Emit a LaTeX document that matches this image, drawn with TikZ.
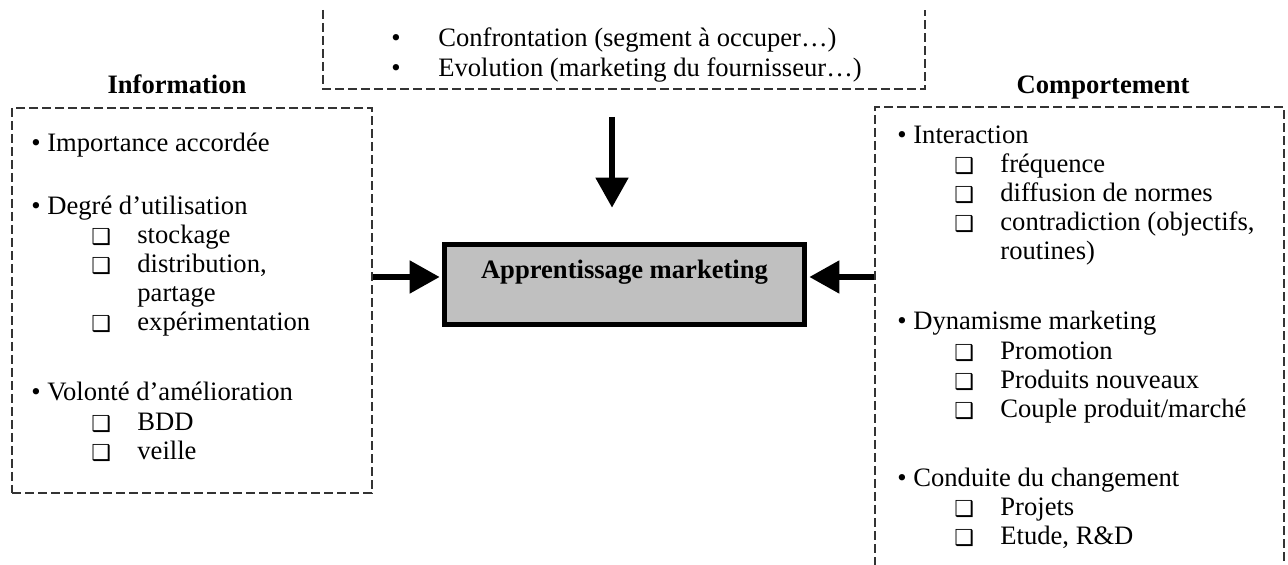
\documentclass[tikz,border=0pt]{standalone}
\usepackage{fontspec}
\setmainfont{Liberation Serif}
\newfontfamily\symfont{DejaVu Sans}
\usetikzlibrary{arrows.meta}
\definecolor{boxgray}{HTML}{C0C0C0}
\newcommand\sqi{\makebox[23pt][l]{\raisebox{-0.5pt}{\symfont\fontsize{11pt}{11pt}\selectfont ❑}}}

\begin{document}
\begin{tikzpicture}[x=0.5pt, y=-0.5pt,
    every node/.style={inner sep=0pt, font=\fontsize{13.3pt}{16pt}\selectfont},
    txt/.style={anchor=base west},
    head/.style={anchor=base, font=\fontsize{13.3pt}{16pt}\selectfont\bfseries},
    dashbox/.style={draw=black!80, line width=0.8pt, dash pattern=on 4.5pt off 2pt},
    bigarrow/.style={line width=2.6pt, shorten >=1.2pt, -{Triangle[length=15pt,width=16pt]}}]
  \useasboundingbox (0,0) rectangle (1288,565);

  % the three dashed frames (top and right ones run off the page)
  \draw[dashbox] (323,10) |- (925,89) -- (925,10);
  \node[dashbox, minimum width=180pt, minimum height=192.5pt] (info) at (192,300.5) {};
  \node[dashbox, minimum width=204.5pt, minimum height=256.5pt] (comp) at (1079.5,363.5) {};

  % centre box
  \node[fill=boxgray, draw, line width=2.5pt, minimum width=180pt,
        text height=17pt, text depth=23pt,
        font=\fontsize{13.3pt}{16pt}\selectfont\bfseries] (appr) at (624.5,284.5) {Apprentissage marketing};

  \coordinate (lvl) at (0,277);
  \coordinate (dn) at (612,117);
  \draw[bigarrow] (info.east |- lvl) -- (appr.west |- lvl);
  \draw[bigarrow] (comp.west |- lvl) -- (appr.east |- lvl);
  \draw[bigarrow] (dn) -- ([yshift=16pt]appr.north -| dn);

  % headings
  \node[head] (infohead) at (177,94) {Information};
  \node[head] (comphead) at (1103,94) {Comportement};

  % top frame
  \node[txt] (conf) at (391,47) {\makebox[23.5pt][l]{\textbullet}Confrontation (segment à occuper…)};
  \node[txt] (evol) at (391,77) {\makebox[23.5pt][l]{\textbullet}Evolution (marketing du fournisseur…)};

  % Information
  \node[txt] (imp) at (31,152) {\textbullet\ Importance accordée};
  \node[txt] (deg) at (31,215) {\textbullet\ Degré d’utilisation};
  \node[txt] (stock) at (91,244) {\sqi stockage};
  \node[txt] (distr) at (91,273) {\sqi distribution,};
  \node[txt] (part) at (137,302) {partage};
  \node[txt] (expe) at (91,331) {\sqi expérimentation};
  \node[txt] (vol) at (31,401) {\textbullet\ Volonté d’amélioration};
  \node[txt] (bdd) at (91,431) {\sqi BDD};
  \node[txt] (veil) at (91,460) {\sqi veille};

  % Comportement
  \node[txt] (inter) at (897,144) {\textbullet\ Interaction};
  \node[txt] (freq) at (954,173) {\sqi fréquence};
  \node[txt] (diff) at (954,202) {\sqi diffusion de normes};
  \node[txt] (contr) at (954,231) {\sqi contradiction (objectifs,};
  \node[txt] (rout) at (1000,260) {routines)};
  \node[txt] (dyn) at (897,330) {\textbullet\ Dynamisme marketing};
  \node[txt] (promo) at (954,360) {\sqi Promotion};
  \node[txt] (prod) at (954,389) {\sqi Produits nouveaux};
  \node[txt] (coup) at (954,418) {\sqi Couple produit/marché};
  \node[txt] (cond) at (897,487) {\textbullet\ Conduite du changement};
  \node[txt] (proj) at (954,516) {\sqi Projets};
  \node[txt] (etud) at (954,545) {\sqi Etude, R\&D};
\end{tikzpicture}
\end{document}
